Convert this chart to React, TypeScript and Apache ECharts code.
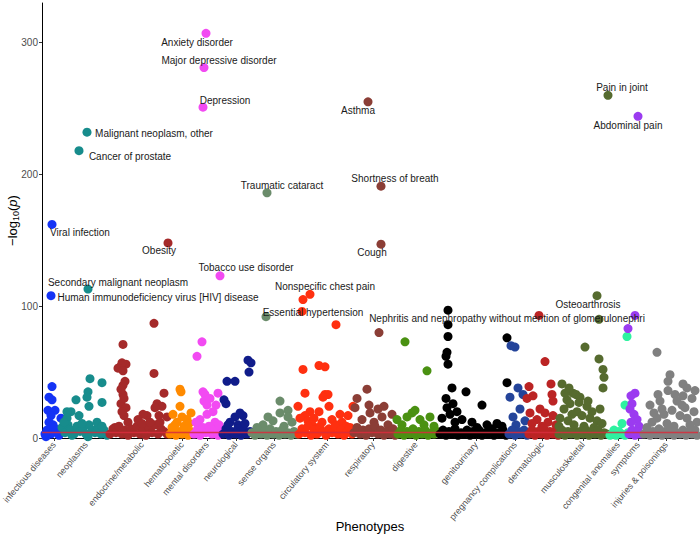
import React, { useEffect, useRef } from "react";
import * as echarts from "echarts";

// ---------- data ----------
const categories = [
  "infectious diseases", "neoplasms", "endocrine/metabolic", "hematopoietic",
  "mental disorders", "neurological", "sense organs", "circulatory system",
  "respiratory", "digestive", "genitourinary", "pregnancy complications",
  "dermatologic", "musculoskeletal", "congenital anomalies", "symptoms",
  "injuries & poisonings",
];
const categoryCenters = [12, 44, 100, 140, 165, 194, 232, 285, 331, 374, 434, 473, 500, 541, 576, 596, 624];
const categoryColors = [
  "#1433F5", "#178C8C", "#A52A2A", "#FF8A00", "#F24AF2", "#101C8A", "#6B8C6B", "#FF3010",
  "#8B3E36", "#4A9112", "#000000", "#24449A", "#BB2424", "#566B2F", "#2EF2A0", "#9B3BF0", "#808080",
];

const infectious = [[10,39],[7,31],[10,29],[6,21],[13,21],[9,17],[19,15],[7,12],[11,10],[5,6],[14,5],[9,3],[17,2],[4,1],[12,8],[3,3]];
const neoplasms = [[48,45],[60,42],[46,35],[45,31],[47,24],[34,29],[60,27],[29,20],[25,20],[37,17],[25,15],
  [20,8],[23,4],[26,10],[29,6],[32,3],[35,9],[38,5],[41,7],[44,3],[47,10],[50,6],[53,4],[56,8],[59,3],[62,6],[65,2],[22,12],[40,11],[55,12],[30,2],[46,1],[60,9]];
const endocrine = [[81,71],[78,54],[84,56],[80,57],[76,53],[81,51],[83,43],[81,40],[81,33],[79,26],[84,23],[82,17],[86,12],[112,87],[112,49],[122,34],[115,26],[120,24],[113,23],[105,17],[101,18],[117,17],[125,16],[73,8],[80,20],[82,30],[79,37],
  [68,3],[71,7],[74,4],[77,9],[80,3],[83,6],[86,2],[89,7],[92,4],[95,9],[98,3],[101,6],[104,2],[107,8],[110,4],[113,10],[116,3],[119,7],[122,5],[125,3],[96,14],[100,11],[108,12],[118,12]];
const hematopoietic = [[138,37],[139,35],[138,24],[131,18],[149,19],[140,16],[135,12],[145,14],[142,9],[130,8],
  [128,3],[131,6],[134,2],[137,5],[140,3],[143,7],[146,2],[149,5],[133,10],[147,11]];
const mental = [[160,73],[155,62],[161,35],[163,33],[165,25],[165,18],[176,34],[174,25],[171,20],[158,14],[162,28],[168,30],[173,12],[156,10],
  [152,3],[155,6],[158,2],[161,8],[164,4],[167,9],[170,3],[173,6],[176,2],[179,5],[154,12],[177,10]];
const neurological = [[206,59],[209,57],[207,50],[185,43],[193,43],[182,29],[184,26],[193,16],[201,17],[198,19],[188,12],[196,10],
  [181,3],[184,7],[187,2],[190,5],[193,3],[196,7],[199,2],[202,6],[205,3],[208,5],[186,10],[203,11]];
const senseOrgans = [[238,28],[246,21],[238,19],[226,16],[246,16],[221,10],[224,92],[231,13],[250,12],[215,8],[242,9],
  [210,4],[213,2],[216,6],[219,3],[222,5],[225,2],[228,7],[231,3],[234,5],[237,2],[240,6],[243,3],[246,4],[249,2],[252,5],[255,3]];
const circulatory = [[261,105],[294,86],[261,52],[277,55],[283,54],[263,34],[283,33],[286,33],[281,31],[256,24],[287,24],[277,20],[268,20],[263,17],[298,18],[306,17],[311,24],[258,15],[266,13],[272,15],[280,12],[290,14],[300,12],[270,10],[294,10],[304,9],[276,8],
  [257,3],[260,7],[263,4],[266,9],[269,2],[272,6],[275,3],[278,8],[281,5],[284,2],[287,7],[290,4],[293,9],[296,3],[299,6],[302,2],[305,5],[308,8],[310,3]];
const respiratory = [[337,80],[325,37],[315,30],[327,25],[342,24],[336,22],[313,23],[328,19],[340,16],[320,14],[332,12],[346,10],[350,18],
  [312,4],[315,8],[318,3],[321,6],[324,2],[327,7],[330,4],[333,9],[336,3],[339,6],[342,2],[345,5],[348,3],[351,7],[353,2]];
const digestive = [[363,73],[385,51],[370,19],[373,21],[365,16],[388,16],[355,14],[378,14],[360,10],[382,10],[392,9],
  [356,3],[359,6],[362,2],[365,5],[368,3],[371,7],[374,2],[377,5],[380,3],[383,6],[386,2],[389,4],[392,3],[395,5]];
const genitourinary = [[406,86],[406,77],[405,65],[404,62],[406,56],[410,38],[424,35],[465,76],[465,42],[440,25],[405,23],[411,26],[415,20],[404,30],[408,18],[420,14],[430,12],[445,10],[455,11],[460,9],[413,12],[400,15],[435,8],[450,7],
  [398,3],[401,6],[404,2],[407,5],[410,3],[413,7],[416,2],[419,4],[422,3],[425,6],[428,2],[431,5],[434,3],[437,6],[440,2],[443,4],[446,3],[449,5],[452,2],[455,4],[458,3],[461,6],[464,2]];
const pregnancy = [[469,70],[473,69],[476,38],[468,31],[481,33],[471,16],[478,22],[483,13],[474,10],
  [467,3],[470,6],[473,2],[476,5],[479,3],[482,6],[485,2]];
const dermatologic = [[497,93],[503,58],[487,39],[509,41],[491,32],[485,30],[510,33],[511,28],[498,22],[503,19],[488,19],[511,17],[495,14],[506,12],[490,11],[500,9],[514,10],
  [487,3],[490,6],[493,2],[496,5],[499,3],[502,7],[505,2],[508,5],[511,3],[514,6],[516,2]];
const musculoskeletal = [[557,90],[543,69],[557,60],[561,52],[562,46],[561,38],[520,41],[531,34],[534,33],[525,29],[538,31],[545,24],[550,20],[528,26],[522,22],[535,20],[540,17],[548,15],[555,13],[560,11],[518,15],[526,13],[532,10],[542,9],[552,8],[530,18],[537,27],[523,34],[546,28],[517,9],[558,22],[527,38],
  [517,3],[520,6],[523,2],[526,5],[529,3],[532,6],[535,2],[538,5],[541,3],[544,6],[547,2],[550,5],[553,3],[556,6],[559,2],[562,4],[565,3]];
const congenital = [[585,77],[583,25],[580,11],[572,6],
  [568,2],[571,4],[574,2],[577,5],[580,3],[583,2],[586,4]];
const symptoms = [[593,93],[586,83],[593,34],[589,32],[590,26],[588,22],[592,18],[595,14],[589,12],[597,9],
  [587,3],[590,6],[593,2],[596,5],[599,3]];
const injuries = [[615,65],[628,48],[626,43],[641,41],[645,38],[616,33],[626,36],[633,33],[641,32],[608,25],[618,28],[635,28],[643,23],[630,21],[615,15],[645,15],[650,30],[652,20],[622,18],[638,17],[610,12],[625,11],[648,10],[605,8],[632,9],[655,12],[620,22],[640,25],[612,19],[653,36],
  [602,3],[605,6],[608,2],[611,5],[614,3],[617,7],[620,2],[623,5],[626,3],[629,6],[632,2],[635,4],[638,3],[641,6],[644,2],[647,5],[650,3],[653,6],[655,2]];

const pointsByCategory = [infectious, neoplasms, endocrine, hematopoietic, mental, neurological, senseOrgans,
  circulatory, respiratory, digestive, genitourinary, pregnancy, dermatologic, musculoskeletal, congenital, symptoms, injuries];

const labelNames = [
  "Anxiety disorder", "Major depressive disorder", "Depression", "Malignant neoplasm, other",
  "Cancer of prostate", "Viral infection", "Obesity", "Tobacco use disorder",
  "Secondary malignant neoplasm", "Human immunodeficiency virus [HIV] disease", "Traumatic cataract",
  "Asthma", "Shortness of breath", "Cough", "Nonspecific chest pain", "Essential hypertension",
  "Nephritis and nephropathy without mention of glomerulonephri", "Osteoarthrosis", "Pain in joint", "Abdominal pain",
];
const labelX = [164, 162, 161, 45, 37, 10, 126, 178, 46, 9, 225, 326, 339, 339, 268, 260, 406, 555, 566, 596];
const labelY = [307, 281, 251, 232, 218, 162, 148, 123, 113, 108, 186, 255, 191, 147, 109, 96, 97, 108, 260, 244];
const labelCategory = [4, 4, 4, 1, 1, 0, 2, 4, 1, 0, 6, 8, 8, 8, 7, 7, 10, 13, 13, 15];

const yTicks = [0, 100, 200, 300];
const threshold = 4.3;

// ---------- styles ----------
const labelOffsets = [
  [-9, 9], [15, -7], [22, -7], [67, 1], [51, 6], [28, 8], [-9, 8], [26, -8], [30, -7], [107, 2],
  [15, -7], [-10, 9], [14, -8], [-9, 8], [15, -8], [11, 1], [59, 8], [-9, 9], [14, -8], [-10, 9],
];
const FONT = "'Liberation Sans', Arial, Helvetica, sans-serif";

export default function App() {
  const ref = useRef<HTMLDivElement>(null);
  useEffect(() => {
    document.body.style.margin = "0";
    document.body.style.overflow = "hidden";
    if (!ref.current) return;
    const chart = echarts.init(ref.current, undefined, { renderer: "svg" });
    const series: any[] = pointsByCategory.map((pts, i) => ({
      type: "scatter",
      name: categories[i],
      data: pts,
      symbolSize: 9,
      clip: true,
      itemStyle: { color: categoryColors[i], opacity: 1 },
      emphasis: { disabled: true },
    }));
    series.push({
      type: "scatter",
      name: "labeled",
      symbolSize: 9,
      clip: true,
      z: 3,
      emphasis: { disabled: true },
      data: labelNames.map((n, i) => ({
        name: n,
        value: [labelX[i], labelY[i]],
        itemStyle: { color: categoryColors[labelCategory[i]], opacity: 1 },
        label: { offset: labelOffsets[i] },
      })),
      label: {
        show: true,
        position: "inside",
        formatter: "{b}",
        color: "#1a1a1a",
        fontSize: 10,
        fontFamily: FONT,
        align: "center",
        verticalAlign: "middle",
      },
      markLine: {
        silent: true,
        symbol: "none",
        label: { show: false },
        lineStyle: { color: "rgba(215,45,60,0.85)", width: 1.3, type: "solid" },
        data: [{ yAxis: threshold }],
      },
    });

    chart.setOption({
      animation: false,
      backgroundColor: "#ffffff",
      textStyle: { fontFamily: FONT },
      grid: { left: 42, right: 2, top: 3, bottom: 102, outerBoundsMode: "none", containLabel: false },
      xAxis: {
        type: "value",
        min: 0,
        max: 656,
        name: "Phenotypes",
        nameLocation: "middle",
        nameGap: 82,
        nameMoveOverlap: false,
        nameTextStyle: { fontSize: 13, color: "#000", fontFamily: FONT },
        axisLine: { show: true, lineStyle: { color: "#000", width: 1 } },
        axisTick: { show: true, length: 3, lineStyle: { color: "#333" }, customValues: categoryCenters },
        axisLabel: {
          customValues: categoryCenters,
          rotate: 50,
          fontSize: 9,
          color: "#4D4D4D",
          fontFamily: FONT,
          margin: 5,
          formatter: (v: number) => {
            const idx = categoryCenters.indexOf(Math.round(v));
            return idx >= 0 ? categories[idx] : "";
          },
        },
        splitLine: { show: false },
      },
      yAxis: {
        type: "value",
        min: 0,
        max: 330,
        name: "{a|−log}{b|10}{a|(}{c|p}{a|)}",
        nameLocation: "middle",
        nameGap: 22,
        nameMoveOverlap: false,
        nameTextStyle: {
          color: "#000",
          fontFamily: FONT,
          rich: {
            a: { fontSize: 13, color: "#000", fontFamily: FONT },
            b: { fontSize: 9, color: "#000", fontFamily: FONT, padding: [6, 0, 0, 0] },
            c: { fontSize: 13, color: "#000", fontFamily: FONT, fontStyle: "italic" },
          },
        },
        axisLine: { show: true, lineStyle: { color: "#000", width: 1 } },
        axisTick: { show: true, length: 3, lineStyle: { color: "#333" }, customValues: yTicks },
        axisLabel: { customValues: yTicks, fontSize: 10, color: "#4D4D4D", fontFamily: FONT, margin: 4 },
        splitLine: { show: false },
      },
      series,
    });
    return () => chart.dispose();
  }, []);
  return <div ref={ref} style={{ width: 700, height: 540 }} />;
}
